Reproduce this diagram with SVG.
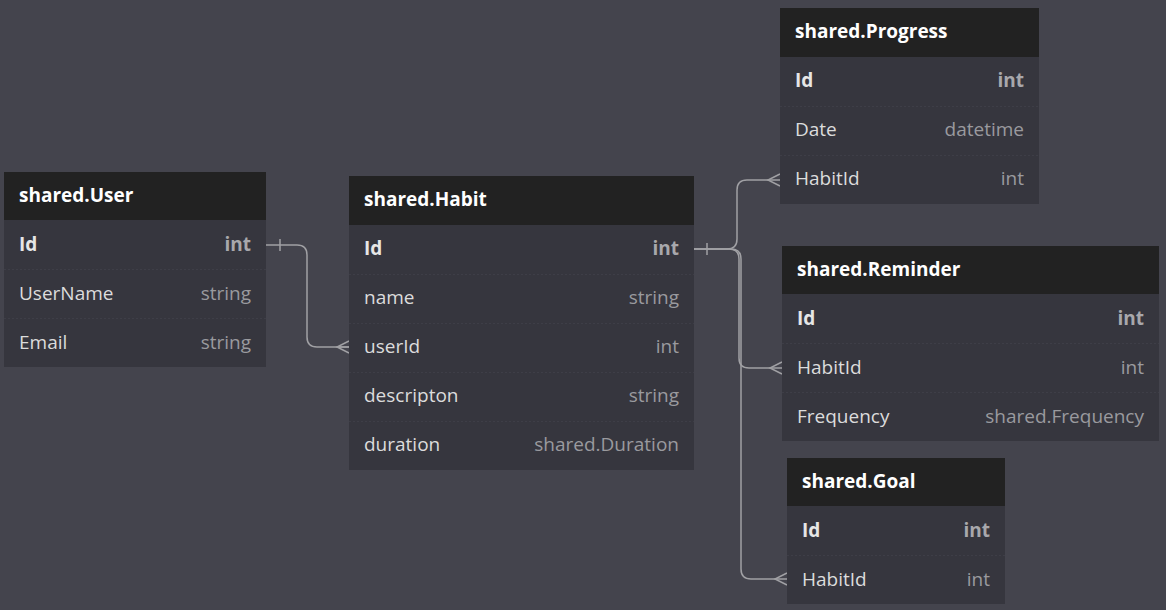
<svg xmlns="http://www.w3.org/2000/svg" width="1166" height="610" viewBox="0 0 1166 610">
<style>
.bg{fill:#44444d}
.body{fill:#36363e}
.head{fill:#222222}
.sep{stroke:#3e3e47;stroke-width:1;stroke-dasharray:2 2}
.ht{font-family:"Open Sans",sans-serif;font-size:19px;font-weight:700;fill:#ffffff}
.fn{font-family:"Open Sans",sans-serif;font-size:19px;fill:#dcdcdc}
.fk{font-family:"Open Sans",sans-serif;font-size:19px;font-weight:700;fill:#e6e6e6}
.ty{font-family:"Open Sans",sans-serif;font-size:19px;fill:#9a9a9e;text-anchor:end}
.tk{font-family:"Open Sans",sans-serif;font-size:19px;font-weight:700;fill:#a8a8ac;text-anchor:end}
.c{fill:none;stroke:#a0a0a4;stroke-width:1.5}
</style>
<rect class="bg" x="0" y="0" width="1166" height="610"/>
<g id="connectors">
<path class="c" d="M266,245 H297 Q307,245 307,255 V337 Q307,347 317,347 H349"/>
<path class="c" d="M280,239 V251"/>
<path class="c" d="M349,341 L337,347 L349,353 M349,347 H337"/>
<path class="c" d="M694,249 H727 Q737,249 737,239 V190 Q737,180 747,180 H780"/>
<path class="c" d="M694,249 H729 Q739,249 739,259 V358 Q739,368 749,368 H782"/>
<path class="c" d="M694,249 H731 Q741,249 741,259 V569 Q741,579 751,579 H787"/>
<path class="c" d="M707,243 V255"/>
<path class="c" d="M780,174 L768,180 L780,186"/>
<path class="c" d="M782,362 L770,368 L782,374"/>
<path class="c" d="M787,573 L775,579 L787,585"/>
</g>
<g id="user">
<rect class="body" x="4" y="172" width="262" height="195"/>
<rect class="head" x="4" y="172" width="262" height="48"/>
<line class="sep" x1="4" y1="269.5" x2="266" y2="269.5"/>
<line class="sep" x1="4" y1="318.5" x2="266" y2="318.5"/>
<text class="ht" x="19" y="202">shared.User</text>
<text class="fk" x="19" y="251">Id</text><text class="tk" x="251" y="251">int</text>
<text class="fn" x="19" y="300">UserName</text><text class="ty" x="251" y="300">string</text>
<text class="fn" x="19" y="349">Email</text><text class="ty" x="251" y="349">string</text>
</g>
<g id="habit">
<rect class="body" x="349" y="176" width="345" height="294"/>
<rect class="head" x="349" y="176" width="345" height="49"/>
<line class="sep" x1="349" y1="274.5" x2="694" y2="274.5"/>
<line class="sep" x1="349" y1="323.5" x2="694" y2="323.5"/>
<line class="sep" x1="349" y1="372.5" x2="694" y2="372.5"/>
<line class="sep" x1="349" y1="421.5" x2="694" y2="421.5"/>
<text class="ht" x="364" y="206">shared.Habit</text>
<text class="fk" x="364" y="255">Id</text><text class="tk" x="679" y="255">int</text>
<text class="fn" x="364" y="304">name</text><text class="ty" x="679" y="304">string</text>
<text class="fn" x="364" y="353">userId</text><text class="ty" x="679" y="353">int</text>
<text class="fn" x="364" y="402">descripton</text><text class="ty" x="679" y="402">string</text>
<text class="fn" x="364" y="451">duration</text><text class="ty" x="679" y="451">shared.Duration</text>
</g>
<g id="progress">
<rect class="body" x="780" y="8" width="259" height="196"/>
<rect class="head" x="780" y="8" width="259" height="49"/>
<line class="sep" x1="780" y1="106.5" x2="1039" y2="106.5"/>
<line class="sep" x1="780" y1="155.5" x2="1039" y2="155.5"/>
<text class="ht" x="795" y="38">shared.Progress</text>
<text class="fk" x="795" y="87">Id</text><text class="tk" x="1024" y="87">int</text>
<text class="fn" x="795" y="136">Date</text><text class="ty" x="1024" y="136">datetime</text>
<text class="fn" x="795" y="185">HabitId</text><text class="ty" x="1024" y="185">int</text>
</g>
<g id="reminder">
<rect class="body" x="782" y="246" width="377" height="195"/>
<rect class="head" x="782" y="246" width="377" height="48"/>
<line class="sep" x1="782" y1="343.5" x2="1159" y2="343.5"/>
<line class="sep" x1="782" y1="392.5" x2="1159" y2="392.5"/>
<text class="ht" x="797" y="276">shared.Reminder</text>
<text class="fk" x="797" y="325">Id</text><text class="tk" x="1144" y="325">int</text>
<text class="fn" x="797" y="374">HabitId</text><text class="ty" x="1144" y="374">int</text>
<text class="fn" x="797" y="423">Frequency</text><text class="ty" x="1144" y="423">shared.Frequency</text>
</g>
<g id="goal">
<rect class="body" x="787" y="458" width="218" height="146"/>
<rect class="head" x="787" y="458" width="218" height="48"/>
<line class="sep" x1="787" y1="555.5" x2="1005" y2="555.5"/>
<text class="ht" x="802" y="488">shared.Goal</text>
<text class="fk" x="802" y="537">Id</text><text class="tk" x="990" y="537">int</text>
<text class="fn" x="802" y="586">HabitId</text><text class="ty" x="990" y="586">int</text>
</g>
</svg>
